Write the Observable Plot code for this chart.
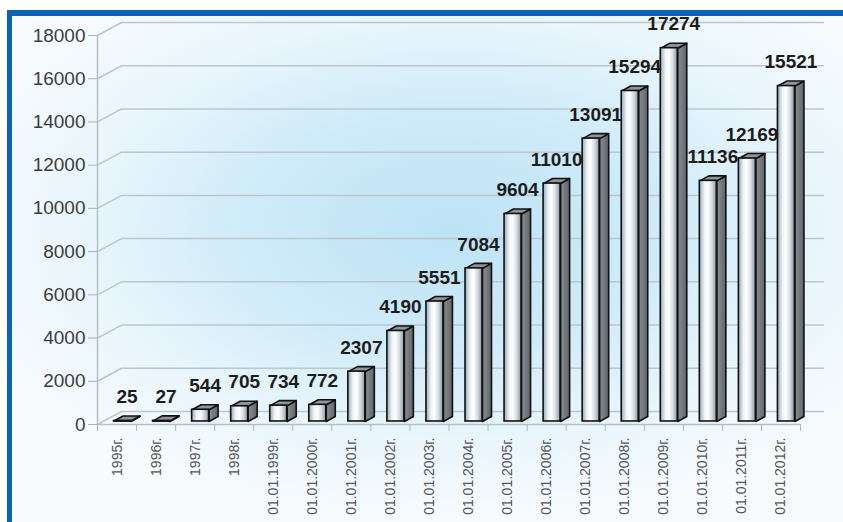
<!DOCTYPE html>
<html>
<head>
<meta charset="utf-8">
<script src="https://cdn.jsdelivr.net/npm/d3@7"></script>
<script src="https://cdn.jsdelivr.net/npm/@observablehq/plot@0.6"></script>
<style>
  html, body { margin: 0; padding: 0; background: #ffffff; width: 843px; height: 522px; overflow: hidden; }
  #frame {
    position: absolute; left: 7px; top: 10px; width: 836px; height: 512px;
    box-sizing: border-box;
    border-left: 5px solid #0b63b5; border-top: 6px solid #0b63b5;
    background: radial-gradient(ellipse 62% 58% at 53% 42%, #bde3f6 0%, #cfebf9 40%, #e9f6fc 72%, #f7fbfe 100%);
  }
  #chart { position: absolute; left: 0; top: 0; }
</style>
</head>
<body>
<div id="frame"></div>
<div id="chart"></div>
<script>
const categories = ["1995г.","1996г.","1997г.","1998г.","01.01.1999г.","01.01.2000г.","01.01.2001г.","01.01.2002г.","01.01.2003г.","01.01.2004г.","01.01.2005г.","01.01.2006г.","01.01.2007г.","01.01.2008г.","01.01.2009г.","01.01.2010г.","01.01.2011г.","01.01.2012г."];
const values = [25,27,544,705,734,772,2307,4190,5551,7084,9604,11010,13091,15294,17274,11136,12169,15521];
const yTicks = [0,2000,4000,6000,8000,10000,12000,14000,16000,18000];

// layout
const W = 843, H = 522, mL = 97, mR = 43, mT = 35, mB = 98;
const n = categories.length, yMax = 18000;
const pxX = (W - mL - mR) / n, pxY = (H - mT - mB) / yMax;
const ux = p => p / pxX, uy = p => p / pxY;

// 3D geometry (pixels)
const off = 16.5, bw = 17, dep = 9, depY = 5, lift = 3;
const wallDx = 24, wallDy = 13;

const bars = values.map((v, i) => ({i, v, cat: categories[i],
  xL: i + ux(off), xR: i + ux(off + bw), y0: uy(lift), y1: v + uy(lift)}));

const sidePts = bars.flatMap(b => [
  {k: b.i, x: b.xR, y: b.y0},
  {k: b.i, x: b.xR + ux(dep), y: b.y0 + uy(depY)},
  {k: b.i, x: b.xR + ux(dep), y: b.y1 + uy(depY)},
  {k: b.i, x: b.xR, y: b.y1},
  {k: b.i, x: b.xR, y: b.y0}
]);
const topPts = bars.flatMap(b => [
  {k: b.i, x: b.xL, y: b.y1},
  {k: b.i, x: b.xR, y: b.y1},
  {k: b.i, x: b.xR + ux(dep), y: b.y1 + uy(depY)},
  {k: b.i, x: b.xL + ux(dep), y: b.y1 + uy(depY)},
  {k: b.i, x: b.xL, y: b.y1}
]);

const font = "'Liberation Sans', Arial, sans-serif";
const gridColor = "#bcc6cc";

const chart = Plot.plot({
  width: W, height: H,
  marginLeft: mL, marginRight: mR, marginTop: mT, marginBottom: mB,
  style: {background: "transparent", overflow: "visible", fontFamily: font},
  x: {domain: [0, n]},
  y: {domain: [0, yMax]},
  marks: [
    // back wall gridlines
    Plot.ruleY(yTicks, {dx: wallDx, dy: -wallDy, stroke: gridColor, strokeWidth: 1.5}),
    Plot.link(yTicks, {x1: 0, x2: ux(wallDx), y1: d => d, y2: d => d + uy(wallDy), stroke: gridColor, strokeWidth: 1.5}),
    // axes lines
    Plot.ruleX([0], {stroke: "#b9bec2", strokeWidth: 1.5}),
    Plot.ruleY([0], {stroke: "#b9bec2", strokeWidth: 1.5}),
    Plot.axisY({ticks: yTicks, tickFormat: d => String(d), tickSize: 9, tickPadding: 3, fontSize: 19, fill: "#3d3d3d", stroke: "#aab0b4"}),
    Plot.axisX({ticks: d3.range(n + 1), tickFormat: () => "", tickSize: 7, stroke: "#b0b6ba"}),
    Plot.axisX({ticks: d3.range(n).map(i => i + 0.5), tickFormat: t => categories[Math.floor(t)], tickRotate: -90, tickSize: 0, tickPadding: 13, fontSize: 14, fill: "#555"}),
    // bars
    Plot.line(sidePts, {x: "x", y: "y", z: "k", fill: "url(#sideGrad)", stroke: "#111", strokeWidth: 1.6, strokeLinejoin: "round", curve: "linear"}),
    Plot.line(topPts, {x: "x", y: "y", z: "k", fill: "#8f959a", stroke: "#111", strokeWidth: 1.6, strokeLinejoin: "round", curve: "linear"}),
    Plot.rect(bars, {x1: "xL", x2: "xR", y1: "y0", y2: "y1", fill: "url(#frontGrad)", stroke: "#111", strokeWidth: 1.6}),
    // value labels
    Plot.text(bars, {x: d => d.xL + ux((bw + dep) / 2), y: "y1", dy: -24, text: d => String(d.v), fontSize: 19, fontWeight: "bold", fill: "#1c1c1c", lineAnchor: "middle"})
  ]
});

const ns = "http://www.w3.org/2000/svg";
const defs = document.createElementNS(ns, "defs");
defs.innerHTML = `
  <linearGradient id="frontGrad" x1="0" x2="1" y1="0" y2="0">
    <stop offset="0" stop-color="#98a8b2"/>
    <stop offset="0.3" stop-color="#eef4f7"/>
    <stop offset="0.5" stop-color="#ffffff"/>
    <stop offset="0.75" stop-color="#d3dadf"/>
    <stop offset="1" stop-color="#8a979f"/>
  </linearGradient>
  <linearGradient id="sideGrad" x1="0" x2="1" y1="0" y2="0">
    <stop offset="0" stop-color="#8a8f93"/>
    <stop offset="1" stop-color="#5f6468"/>
  </linearGradient>`;
chart.insertBefore(defs, chart.firstChild);
document.getElementById("chart").appendChild(chart);
</script>
</body>
</html>
